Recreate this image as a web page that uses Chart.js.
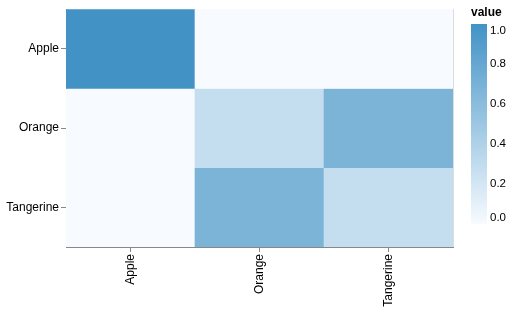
<!DOCTYPE html>
<html>
<head>
<meta charset="utf-8">
<script src="https://cdn.jsdelivr.net/npm/chart.js@4/dist/chart.umd.min.js"></script>
<style>
  html, body { margin: 0; padding: 0; background: #fff; }
  #wrap { width: 516px; height: 313px; }
</style>
</head>
<body>
<div id="wrap"><canvas id="c" width="516" height="313"></canvas></div>
<script>
// ---- data ----
const rowLabels = ['Apple', 'Orange', 'Tangerine'];
const colLabels = ['Apple', 'Orange', 'Tangerine'];
const appleRow = [1.0, 0.0, 0.0];
const orangeRow = [0.0, 0.28, 0.68];
const tangerineRow = [0.0, 0.68, 0.28];
const legendTicks = [1.0, 0.8, 0.6, 0.4, 0.2, 0.0];

const rowValues = [appleRow, orangeRow, tangerineRow];

const LOW = [247, 251, 255];
const HIGH = [66, 146, 198];
function colorFor(v) {
  const c = LOW.map((l, i) => Math.round(l + (HIGH[i] - l) * v));
  return `rgb(${c[0]},${c[1]},${c[2]})`;
}

const datasets = rowValues.map((vals, r) => ({
  label: rowLabels[r],
  data: vals.map(() => [r, r + 1]),
  backgroundColor: vals.map(colorFor),
  borderWidth: 0,
  barPercentage: 1,
  categoryPercentage: 1,
  grouped: false
}));

const FONT = 'Liberation Sans, Arial, sans-serif';

const extras = {
  id: 'extras',
  afterDatasetsDraw(chart) {
    const { ctx, chartArea: a } = chart;
    ctx.save();
    ctx.strokeStyle = '#dddddd';
    ctx.lineWidth = 1;
    ctx.beginPath();
    ctx.moveTo(a.right + 0.5, a.top);
    ctx.lineTo(a.right + 0.5, a.bottom);
    ctx.stroke();
    ctx.restore();
  },
  afterDraw(chart) {
    const ctx = chart.ctx;
    const gx = 471, gy = 24, gw = 16, gh = 200;
    ctx.save();
    // title
    ctx.fillStyle = '#000';
    ctx.font = 'bold 12px ' + FONT;
    ctx.textAlign = 'left';
    ctx.textBaseline = 'alphabetic';
    ctx.fillText('value', gx, 16);
    // gradient
    const g = ctx.createLinearGradient(0, gy, 0, gy + gh);
    g.addColorStop(0, colorFor(1));
    g.addColorStop(1, colorFor(0));
    ctx.fillStyle = g;
    ctx.fillRect(gx, gy, gw, gh);
    // labels
    ctx.fillStyle = '#000';
    ctx.font = '11.5px ' + FONT;
    legendTicks.forEach((t, i) => {
      const y = gy + gh * (1 - t);
      if (i === 0) ctx.textBaseline = 'top';
      else if (i === legendTicks.length - 1) ctx.textBaseline = 'bottom';
      else ctx.textBaseline = 'middle';
      ctx.fillText(t.toFixed(1), gx + gw + 3, i === 0 ? y + 1 : y);
    });
    ctx.restore();
  }
};

new Chart(document.getElementById('c'), {
  type: 'bar',
  data: { labels: colLabels, datasets },
  options: {
    responsive: false,
    animation: false,
    layout: { padding: { top: 7, right: 63, left: 0, bottom: 0 } },
    plugins: { legend: { display: false }, tooltip: { enabled: false } },
    scales: {
      x: {
        type: 'category',
        offset: true,
        grid: { display: true, drawOnChartArea: false, drawTicks: true, tickLength: 5, tickColor: '#888', offset: false },
        border: { display: true, color: '#888', width: 1 },
        ticks: { color: '#000', font: { family: FONT, size: 12 }, minRotation: 90, maxRotation: 90, padding: 2, autoSkip: false },
        afterFit(s) { s.height = 66; }
      },
      y: {
        type: 'linear',
        min: 0,
        max: 3,
        reverse: true,
        afterBuildTicks(s) { s.ticks = [{ value: 0.5 }, { value: 1.5 }, { value: 2.5 }]; },
        grid: { display: true, drawOnChartArea: false, drawTicks: true, tickLength: 5, tickColor: '#888' },
        border: { display: true, color: '#888', width: 1 },
        ticks: {
          color: '#000',
          font: { family: FONT, size: 12 },
          padding: 2,
          autoSkip: false,
          callback: (v) => rowLabels[Math.floor(v)]
        },
        afterFit(s) { s.width = 66; }
      }
    }
  },
  plugins: [extras]
});
</script>
</body>
</html>
